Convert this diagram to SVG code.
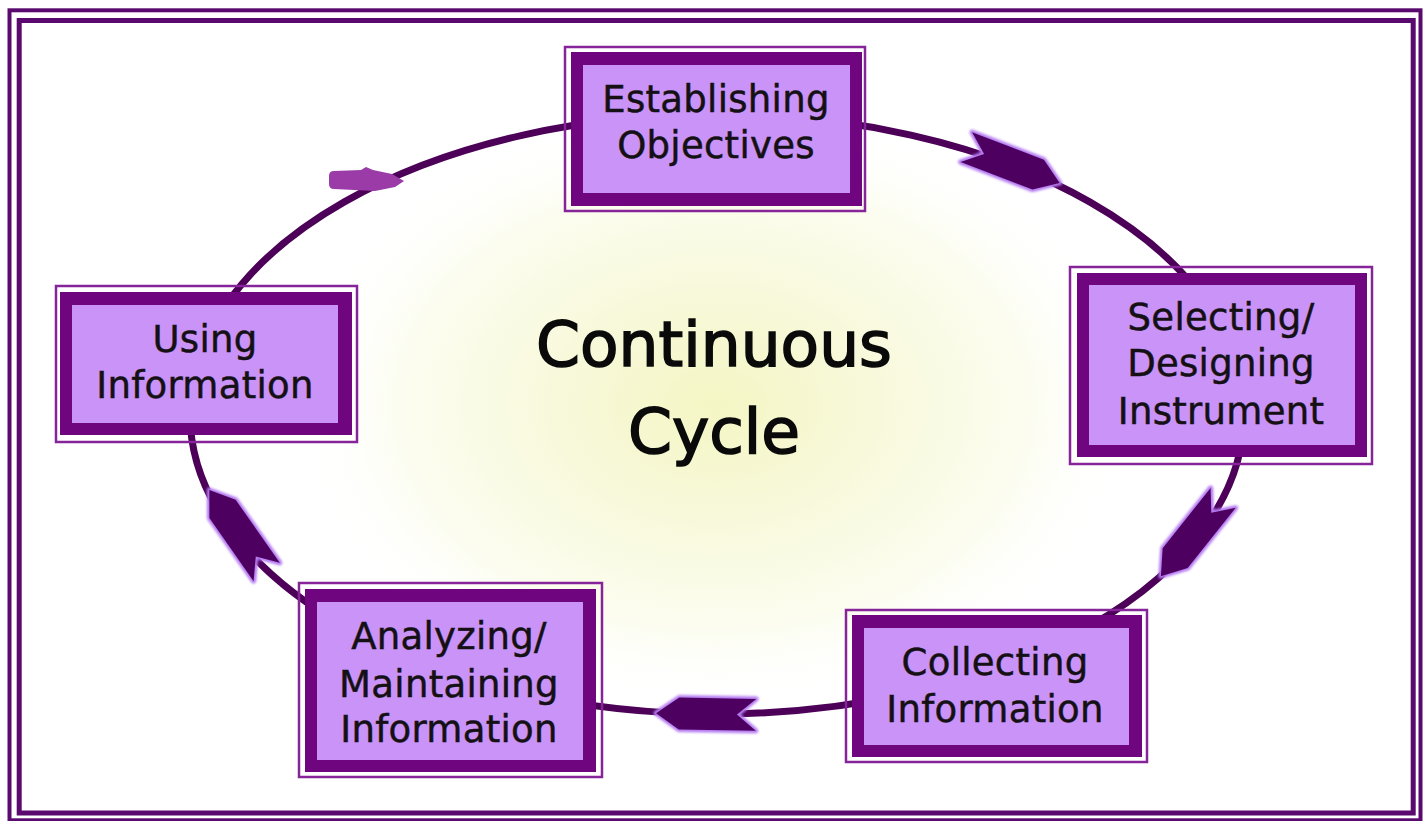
<svg xmlns="http://www.w3.org/2000/svg" width="1426" height="821" viewBox="0 0 1426 821">
  <style>
    .thin { fill: none; stroke: #86249A; stroke-width: 2.5; }
    .thick { fill: #700580; }
    .inner { fill: #C993F8; }
    .lbl { font-family: "DejaVu Sans", Verdana, sans-serif; font-size: 37px; letter-spacing: 0.3px; fill: #141014; stroke: #141014; stroke-width: 0.5; text-anchor: middle; }
    .title { font-family: "DejaVu Sans", Verdana, sans-serif; font-size: 63px; fill: #0a0a0a; stroke: #0a0a0a; stroke-width: 1.6; text-anchor: middle; }
    .cyc { fill: none; stroke: #4C0058; stroke-width: 7; }
    .glow { fill: #B57CF2; stroke: #B57CF2; stroke-width: 5; stroke-linejoin: round; filter: url(#soft); }
    .head { fill: #4E0060; stroke: none; }
  </style>
  <defs>
    <radialGradient id="bg" cx="0.5" cy="0.5" r="0.5">
      <stop offset="0" stop-color="#F4F6C4"/>
      <stop offset="0.4" stop-color="#F8F9DC"/>
      <stop offset="0.75" stop-color="#FCFDF0"/>
      <stop offset="1" stop-color="#FFFFFF" stop-opacity="0"/>
    </radialGradient>
    <filter id="soft" x="-20%" y="-40%" width="140%" height="180%">
      <feGaussianBlur stdDeviation="1.2"/>
    </filter>
    <polygon id="arrow" points="-50,-16 -31,0 -50,16 27,16 50,0 27,-16"/>
  </defs>

  <rect width="1426" height="821" fill="#FFFFFF"/>
  <rect x="9.5" y="10.3" width="1411" height="810" fill="none" stroke="#5A0A6E" stroke-width="4"/>
  <rect x="19.2" y="20.5" width="1394" height="792.5" fill="none" stroke="#5A0A6E" stroke-width="5"/>

  <ellipse cx="715" cy="405" rx="420" ry="300" fill="url(#bg)"/>

  <g id="connectors">
    <ellipse class="cyc" cx="717" cy="414" rx="527" ry="300"/>
    <g transform="translate(1013,165) rotate(21)">
      <use href="#arrow" class="glow"/>
      <use href="#arrow" class="head"/>
    </g>
    <g transform="translate(1192,537) rotate(128.5)">
      <use href="#arrow" class="glow"/>
      <use href="#arrow" class="head"/>
    </g>
    <g transform="translate(706,714) rotate(181)">
      <use href="#arrow" class="glow"/>
      <use href="#arrow" class="head"/>
    </g>
    <g transform="translate(238,531) rotate(235)">
      <use href="#arrow" class="glow"/>
      <use href="#arrow" class="head"/>
    </g>
    <path d="M334,171 L361,170 L366,167 L373,170 L392,174 L404,181 L395,187 L375,191 L334,189 Q329,189 329,184 L329,176 Q329,171 334,171 Z" fill="#9A3BA8"/>
  </g>

  <text class="title" x="714" y="366">Continuous</text>
  <text class="title" x="714" y="453">Cycle</text>

  <g id="node-establishing">
    <rect class="thin" x="565" y="47" width="300" height="164"/>
    <rect class="thick" x="571" y="52" width="291" height="154"/>
    <rect class="inner" x="583" y="65" width="267" height="128"/>
    <text class="lbl" x="716" y="112">Establishing</text>
    <text class="lbl" x="716" y="158">Objectives</text>
  </g>

  <g id="node-selecting">
    <rect class="thin" x="1070" y="267" width="302" height="197"/>
    <rect class="thick" x="1077" y="273" width="290" height="184"/>
    <rect class="inner" x="1089" y="285" width="266" height="160"/>
    <text class="lbl" x="1221" y="330">Selecting/</text>
    <text class="lbl" x="1221" y="376">Designing</text>
    <text class="lbl" x="1221" y="424">Instrument</text>
  </g>

  <g id="node-collecting">
    <rect class="thin" x="846" y="610" width="301" height="152"/>
    <rect class="thick" x="852" y="615" width="290" height="142"/>
    <rect class="inner" x="864" y="628" width="265" height="117"/>
    <text class="lbl" x="995" y="675">Collecting</text>
    <text class="lbl" x="995" y="722">Information</text>
  </g>

  <g id="node-analyzing">
    <rect class="thin" x="299" y="583" width="303" height="194"/>
    <rect class="thick" x="305" y="589" width="291" height="183"/>
    <rect class="inner" x="317" y="602" width="266" height="158"/>
    <text class="lbl" x="449" y="649">Analyzing/</text>
    <text class="lbl" x="449" y="697">Maintaining</text>
    <text class="lbl" x="449" y="742">Information</text>
  </g>

  <g id="node-using">
    <rect class="thin" x="56" y="286" width="301" height="156"/>
    <rect class="thick" x="60" y="292" width="292" height="143"/>
    <rect class="inner" x="72" y="305" width="266" height="118"/>
    <text class="lbl" x="205" y="352">Using</text>
    <text class="lbl" x="205" y="398">Information</text>
  </g>
</svg>
